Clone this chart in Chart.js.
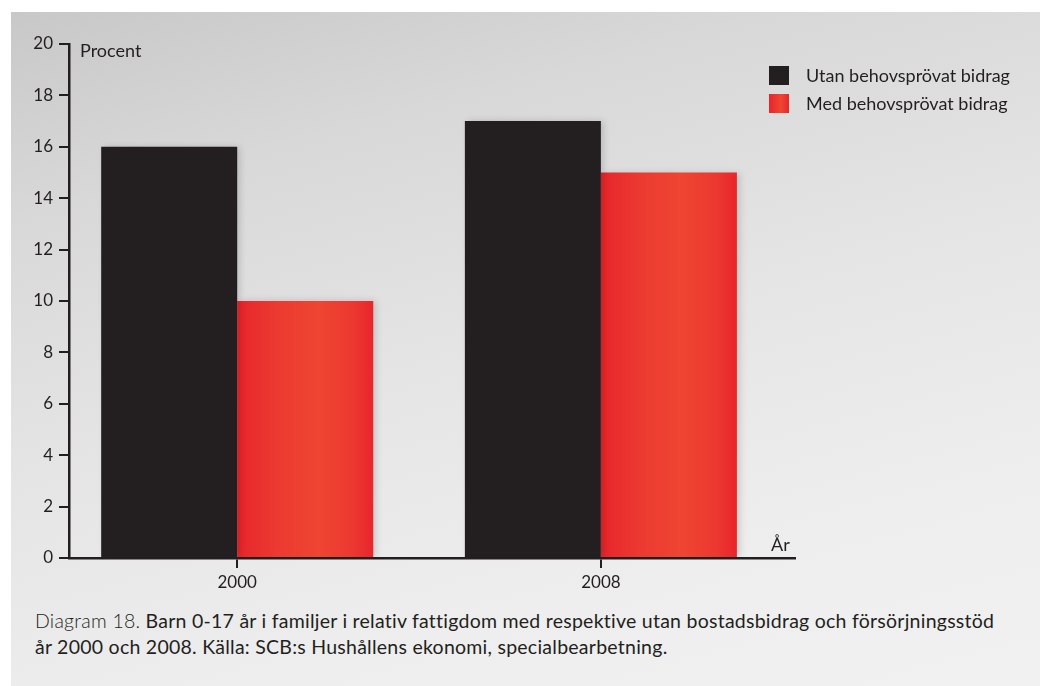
<!DOCTYPE html>
<html><head><meta charset="utf-8">
<script src="https://cdn.jsdelivr.net/npm/chart.js@4.4.1/dist/chart.umd.min.js"></script>
<style>
html,body{margin:0;padding:0;background:#fff;width:1040px;height:686px;overflow:hidden;font-family:Lato,"Open Sans",sans-serif;color:#231f20;}
#panel{position:absolute;left:11px;top:12px;width:1029px;height:674px;background:linear-gradient(165deg,#c8c8c8 0%,#d8d8d8 22%,#e5e5e5 50%,#eeeeee 78%,#f1f1f1 100%);}
#wrap{position:absolute;left:0;top:0;width:1040px;height:600px;}
#legend{position:absolute;left:769px;top:61px;font-size:18px;}
.item{display:flex;align-items:center;height:28px;}
.sw{width:20px;height:19px;margin-right:17px;}
#caption{position:absolute;left:35px;top:608px;font-size:19.5px;letter-spacing:0.25px;line-height:25.6px;white-space:nowrap;}
#caption .lead{font-weight:300;}
</style></head>
<body>
<div id="panel"></div>
<div id="wrap"><canvas id="c" width="1040" height="600"></canvas></div>
<div id="legend"></div>
<div id="caption"><span class="lead">Diagram 18.</span> Barn 0-17 år i familjer i relativ fattigdom med respektive utan bostadsbidrag och försörjningsstöd<br>år 2000 och 2008. Källa: SCB:s Hushållens ekonomi, specialbearbetning.</div>
<script>
const years = [2000, 2008];
const seriesNames = ["Utan behovsprövat bidrag", "Med behovsprövat bidrag"];
const utan = [16, 17];
const med = [10, 15];
const yTicks = [0, 2, 4, 6, 8, 10, 12, 14, 16, 18, 20];

const INK = '#231f20';
const CAT_PCT = 0.748;
const FONT = 'Lato, "Open Sans", sans-serif';

function redGradient(c) {
  const chart = c.chart, xs = chart.scales.x;
  if (!xs || c.dataIndex == null || !chart.chartArea) return '#ea2c2e';
  const px = xs.getPixelForValue(years[c.dataIndex]);
  const ruler = Math.abs(xs.getPixelForValue(years[1]) - xs.getPixelForValue(years[0]));
  const w = ruler * CAT_PCT / 2;
  const g = chart.ctx.createLinearGradient(px, 0, px + w, 0);
  g.addColorStop(0, '#e8252c');
  g.addColorStop(0.3, '#ec3a31');
  g.addColorStop(0.6, '#ef4532');
  g.addColorStop(0.85, '#ec3830');
  g.addColorStop(1, '#e8252b');
  return g;
}

// legend (HTML)
const legendEl = document.getElementById('legend');
const swatches = [INK, 'linear-gradient(90deg,#e8252c,#ef4532 60%,#e8252b)'];
seriesNames.forEach((n, i) => {
  const d = document.createElement('div'); d.className = 'item';
  const s = document.createElement('div'); s.className = 'sw'; s.style.background = swatches[i];
  const t = document.createElement('span'); t.textContent = n;
  d.appendChild(s); d.appendChild(t); legendEl.appendChild(d);
});

const shadowPlugin = {
  id: 'shadow',
  beforeDatasetsDraw(chart) {
    const ctx = chart.ctx; ctx.save();
    ctx.shadowColor = 'rgba(0,0,0,0.16)'; ctx.shadowBlur = 7; ctx.shadowOffsetX = 3; ctx.shadowOffsetY = 0;
  },
  afterDatasetsDraw(chart) { chart.ctx.restore(); }
};

const labelPlugin = {
  id: 'axisLabels',
  afterDraw(chart) {
    const ctx = chart.ctx, a = chart.chartArea;
    ctx.save();
    ctx.fillStyle = INK; ctx.font = '18px ' + FONT; ctx.textBaseline = 'alphabetic'; ctx.textAlign = 'left';
    ctx.fillText('Procent', a.left + 11, 57);
    ctx.fillText('År', a.right - 24, 551);
    ctx.restore();
  }
};

new Chart(document.getElementById('c'), {
  type: 'bar',
  data: {
    datasets: [
      { label: seriesNames[0], data: years.map((y, i) => ({ x: y, y: utan[i] })), backgroundColor: INK },
      { label: seriesNames[1], data: years.map((y, i) => ({ x: y, y: med[i] })), backgroundColor: redGradient }
    ]
  },
  options: {
    responsive: false,
    animation: false,
    layout: { padding: { top: 44, right: 245, left: 0, bottom: 0 } },
    datasets: { bar: { categoryPercentage: CAT_PCT, barPercentage: 1, borderWidth: 0 } },
    plugins: { legend: { display: false }, tooltip: { enabled: false } },
    scales: {
      x: {
        type: 'linear', offset: false,
        min: 1996.3, max: 2012.27,
        afterBuildTicks: s => { s.ticks = years.map(v => ({ value: v })); },
        afterFit: s => { s.height = 42; },
        grid: { offset: false, drawOnChartArea: false, drawTicks: true, tickLength: 10, lineWidth: 2, tickWidth: 2, tickColor: INK },
        border: { display: true, color: INK, width: 2.5 },
        ticks: { color: INK, font: { family: FONT, size: 17 }, padding: 4, callback: v => String(v), maxRotation: 0, autoSkip: false }
      },
      y: {
        min: 0, max: 20,
        afterBuildTicks: s => { s.ticks = yTicks.map(v => ({ value: v })); },
        afterFit: s => { s.width = 69; },
        grid: { drawOnChartArea: false, drawTicks: true, tickLength: 10, lineWidth: 2, tickWidth: 2, tickColor: INK },
        border: { display: true, color: INK, width: 2.5 },
        ticks: { color: INK, font: { family: FONT, size: 17 }, padding: 6 }
      }
    }
  },
  plugins: [shadowPlugin, labelPlugin]
});
</script>
</body></html>
